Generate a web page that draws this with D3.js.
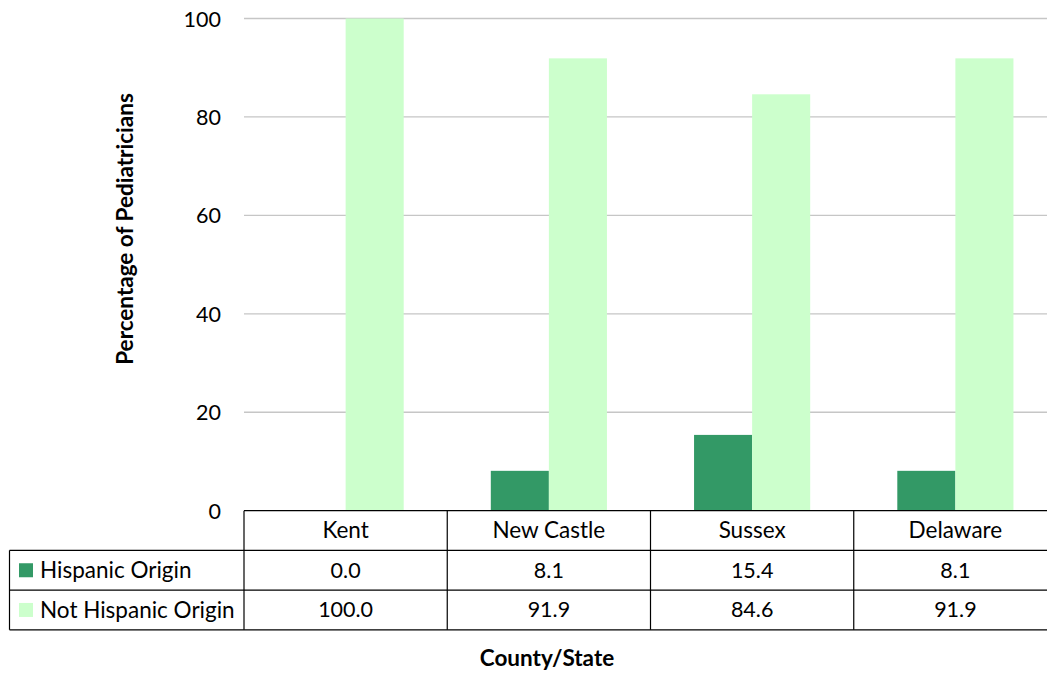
<!DOCTYPE html>
<html>
<head>
<meta charset="utf-8">
<script src="https://cdn.jsdelivr.net/npm/d3@7/dist/d3.min.js"></script>
<style>
  html, body { margin: 0; padding: 0; background: #fff; }
  svg { display: block; }
  text { font-family: Lato, "Liberation Sans", sans-serif; fill: #000; }
</style>
</head>
<body>
<svg id="chart" width="1047" height="673"></svg>
<script>
// Pediatricians by Hispanic origin, per county and statewide
const categories = ["Kent", "New Castle", "Sussex", "Delaware"];
const seriesNames = ["Hispanic Origin", "Not Hispanic Origin"];
const hispanic = [0.0, 8.1, 15.4, 8.1];
const notHispanic = [100.0, 91.9, 84.6, 91.9];
const yTicks = [0, 20, 40, 60, 80, 100];
const colors = ["#339966", "#CCFFCC"];

const seriesValues = [hispanic, notHispanic];

const svg = d3.select("#chart");
const plot = { left: 244, right: 1057, top: 18.5, bottom: 510.7 };
const rowH = 39.7;
const legendLeft = 9.5;
const wordSize = 22.5;
const numSize = 21.5;

const x = d3.scaleBand().domain(categories).range([plot.left, plot.right]).paddingInner(0).paddingOuter(0);
const barW = x.bandwidth() / 3.5; // gap width 150%
const xs = d3.scaleBand().domain(seriesNames).range([-barW, barW]);
const y = d3.scaleLinear().domain([0, 100]).range([plot.bottom, plot.top]);

// gridlines
svg.append("g")
  .selectAll("line").data(yTicks.filter(t => t > 0)).join("line")
  .attr("x1", plot.left).attr("x2", plot.right)
  .attr("y1", d => y(d)).attr("y2", d => y(d))
  .attr("stroke", "#c6c6c6").attr("stroke-width", 1.3);

// y-axis tick labels
const yAxis = d3.axisLeft(y).tickValues(yTicks).tickSize(0).tickPadding(0).tickFormat(d3.format("d"));
const yg = svg.append("g").attr("transform", `translate(${221},0)`).call(yAxis);
yg.select(".domain").remove();
yg.selectAll("text").attr("font-size", numSize).attr("font-family", "Lato, sans-serif").attr("fill", "#000").attr("dy", "0.35em");

// bars
const groups = svg.append("g").selectAll("g").data(categories).join("g")
  .attr("transform", d => `translate(${x(d) + x.bandwidth() / 2},0)`);
groups.selectAll("rect")
  .data((d, i) => seriesNames.map((s, j) => ({ s, v: seriesValues[j][i], c: colors[j] })))
  .join("rect")
  .attr("x", d => xs(d.s))
  .attr("width", xs.bandwidth())
  .attr("y", d => y(d.v))
  .attr("height", d => y(0) - y(d.v))
  .attr("fill", d => d.c);

// data table below the plot
const tbl = svg.append("g").attr("stroke", "#000").attr("stroke-width", 1.2);
const tableBottom = plot.bottom + 3 * rowH;
// axis line / header top
tbl.append("line").attr("x1", plot.left).attr("x2", plot.right).attr("y1", plot.bottom).attr("y2", plot.bottom);
// horizontal row lines across legend + data columns
[1, 2, 3].forEach(r => {
  tbl.append("line").attr("x1", legendLeft).attr("x2", plot.right)
    .attr("y1", plot.bottom + r * rowH).attr("y2", plot.bottom + r * rowH);
});
// vertical column lines
const colEdges = categories.map(c => x(c)).concat([plot.right]);
tbl.selectAll("line.col").data(colEdges).join("line").attr("class", "col")
  .attr("x1", d => d).attr("x2", d => d)
  .attr("y1", plot.bottom).attr("y2", tableBottom);
tbl.append("line").attr("x1", legendLeft).attr("x2", legendLeft)
  .attr("y1", plot.bottom + rowH).attr("y2", tableBottom);

// header labels
svg.append("g").selectAll("text").data(categories).join("text")
  .attr("x", d => x(d) + x.bandwidth() / 2)
  .attr("y", plot.bottom + rowH / 2)
  .attr("dy", "0.35em")
  .attr("text-anchor", "middle")
  .attr("font-size", wordSize)
  .text(d => d);

// value rows with legend keys
seriesNames.forEach((s, j) => {
  const cy = plot.bottom + (j + 1.5) * rowH;
  svg.append("rect").attr("x", 19).attr("y", cy - 7).attr("width", 14).attr("height", 14).attr("fill", colors[j]);
  svg.append("text").attr("x", 40).attr("y", cy).attr("dy", "0.35em").attr("font-size", wordSize).text(s);
  svg.append("g").selectAll("text").data(categories).join("text")
    .attr("x", d => x(d) + x.bandwidth() / 2)
    .attr("y", cy)
    .attr("dy", "0.35em")
    .attr("text-anchor", "middle")
    .attr("font-size", numSize)
    .text((d, i) => d3.format(".1f")(seriesValues[j][i]));
});

// axis titles
svg.append("text")
  .attr("transform", `translate(125,229) rotate(-90)`)
  .attr("text-anchor", "middle").attr("dy", "0.35em")
  .attr("font-size", wordSize).attr("font-weight", "bold")
  .text("Percentage of Pediatricians");
svg.append("text")
  .attr("x", 547).attr("y", 658).attr("dy", "0.35em")
  .attr("text-anchor", "middle")
  .attr("font-size", wordSize).attr("font-weight", "bold")
  .text("County/State");
</script>
</body>
</html>
